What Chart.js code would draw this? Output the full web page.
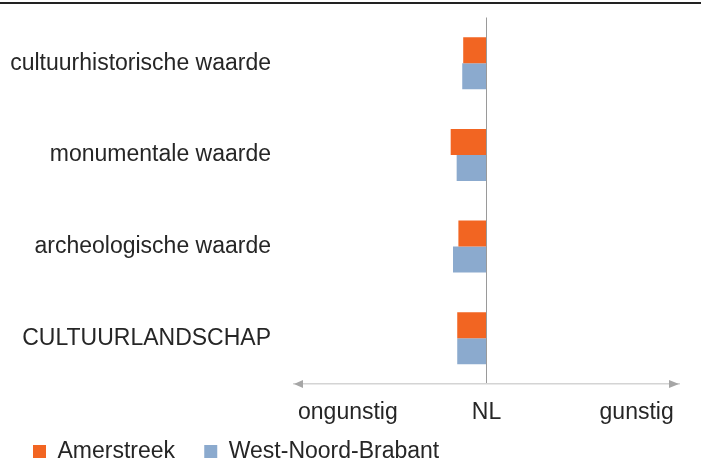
<!DOCTYPE html>
<html>
<head>
<meta charset="utf-8">
<script src="https://cdn.jsdelivr.net/npm/chart.js@4.4.1/dist/chart.umd.min.js"></script>
<style>
  html, body { margin: 0; padding: 0; background: #fff; }
  #wrap { position: relative; width: 701px; height: 469px; }
  #topline { position: absolute; left: 0; top: 2px; width: 701px; height: 2px; background: #222; z-index: 2; }
</style>
</head>
<body>
<div id="wrap">
  <div id="topline"></div>
  <canvas id="chart"></canvas>
</div>
<script>
// categorieën en waarden (t.o.v. NL, schaal -100..100)
const categories = ['cultuurhistorische waarde', 'monumentale waarde', 'archeologische waarde', 'CULTUURLANDSCHAP'];
const amerstreek = [-12.1, -18.6, -14.6, -15.2];
const westNoordBrabant = [-12.6, -15.5, -17.4, -15.2];
const seriesNames = ['Amerstreek', 'West-Noord-Brabant'];
const xTickValues = [-72, 0, 78];
const xTickLabels = ['ongunstig', 'NL', 'gunstig'];

const FONT = '"Liberation Sans", Arial, sans-serif';
const TEXT = '#262626';

// pijlpunten aan de uiteinden van de x-as
const arrowPlugin = {
  id: 'arrows',
  afterDraw(chart) {
    const ctx = chart.ctx;
    const x = chart.scales.x;
    const y = chart.chartArea.bottom;
    ctx.save();
    ctx.fillStyle = '#a6a6a6';
    ctx.beginPath();
    ctx.moveTo(x.left, y);
    ctx.lineTo(x.left + 9, y - 4);
    ctx.lineTo(x.left + 9, y + 4);
    ctx.closePath();
    ctx.fill();
    ctx.beginPath();
    ctx.moveTo(x.right, y);
    ctx.lineTo(x.right - 10, y - 4);
    ctx.lineTo(x.right - 10, y + 4);
    ctx.closePath();
    ctx.fill();
    ctx.restore();
  }
};

// legenda wat naar rechts schuiven
const legendShift = {
  id: 'legendShift',
  afterLayout(chart) {
    chart.legend.left += 15;
  }
};

const chart = new Chart(document.getElementById('chart'), {
  type: 'bar',
  data: {
    labels: categories,
    datasets: [{
      label: seriesNames[0],
      data: amerstreek,
      backgroundColor: '#f26522',
      barPercentage: 1,
      categoryPercentage: 0.568
    }, {
      label: seriesNames[1],
      data: westNoordBrabant,
      backgroundColor: '#8baace',
      barPercentage: 1,
      categoryPercentage: 0.568
    }]
  },
  options: {
    indexAxis: 'y',
    responsive: true,
    maintainAspectRatio: false,
    animation: false,
    layout: {
      padding: { top: 17.5, left: 8, right: 22, bottom: -4 }
    },
    scales: {
      x: {
        min: -100,
        max: 100,
        afterBuildTicks: axis => {
          axis.ticks = xTickValues.map(v => ({ value: v }));
        },
        afterFit: axis => {
          axis.height = 46;
          axis.paddingLeft = 0;
          axis.paddingRight = 0;
        },
        ticks: {
          autoSkip: false,
          maxRotation: 0,
          padding: 15,
          color: TEXT,
          font: { family: FONT, size: 23 },
          callback: (value, i) => xTickLabels[i]
        },
        grid: {
          drawTicks: false,
          lineWidth: 1,
          color: ctx => (ctx.tick && ctx.tick.value === 0 ? '#9a9a9a' : 'rgba(0,0,0,0)')
        },
        border: { display: true, color: '#d4d4d4', width: 1.5 }
      },
      y: {
        afterFit: axis => {
          axis.width = 286;
          axis.paddingTop = 0;
          axis.paddingBottom = 0;
        },
        ticks: {
          padding: 23,
          color: TEXT,
          font: { family: FONT, size: 23 }
        },
        grid: { display: false, drawTicks: false },
        border: { display: false }
      }
    },
    plugins: {
      legend: {
        position: 'bottom',
        align: 'start',
        labels: {
          boxWidth: 13,
          boxHeight: 13,
          padding: 10,
          color: TEXT,
          font: { family: FONT, size: 23 },
          // iets extra ruimte na de eerste legenda-tekst
          generateLabels: c => Chart.defaults.plugins.legend.labels.generateLabels(c)
            .map((item, i) => Object.assign(item, { text: i === 0 ? item.text + '   ' : item.text }))
        }
      },
      tooltip: { enabled: false }
    }
  },
  plugins: [arrowPlugin, legendShift]
});
</script>
</body>
</html>
